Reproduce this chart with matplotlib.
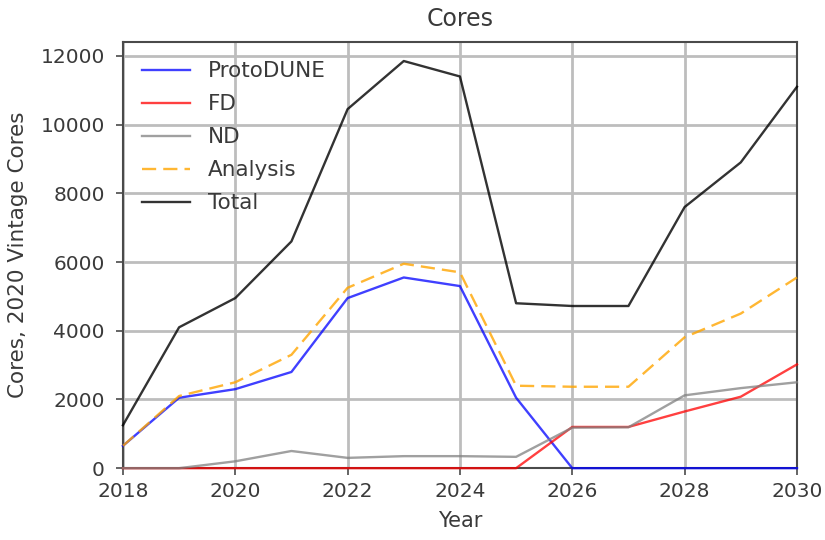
import matplotlib
matplotlib.use("Agg")
import matplotlib.pyplot as plt

years = [2018, 2019, 2020, 2021, 2022, 2023, 2024, 2025, 2026, 2027, 2028, 2029, 2030]
protodune = [650, 2050, 2300, 2800, 4950, 5550, 5300, 2050, 0, 0, 0, 0, 0]
fd = [0, 0, 0, 0, 0, 0, 0, 0, 1200, 1200, 1650, 2080, 3020]
nd = [0, 0, 200, 500, 300, 350, 350, 330, 1180, 1190, 2120, 2330, 2500]
analysis = [650, 2100, 2500, 3300, 5250, 5950, 5700, 2400, 2370, 2370, 3810, 4500, 5550]
total = [1250, 4100, 4950, 6600, 10450, 11850, 11400, 4800, 4720, 4720, 7600, 8900, 11100]

plt.rcParams['font.family'] = ['DejaVu Sans']
fig = plt.figure(figsize=(8.25, 5.4), dpi=100)
ax = fig.add_axes([0.149, 0.133, 0.817, 0.789])

text_color = '#3a3a3a'
lw = 1.7
kw = dict(lw=lw, zorder=3, clip_on=False)
ax.plot(years, protodune, color='blue', alpha=0.75, label='ProtoDUNE', **kw)
ax.plot(years, fd, color='red', alpha=0.75, label='FD', **kw)
ax.plot(years, nd, color='gray', alpha=0.75, label='ND', **kw)
ax.plot(years, analysis, color='orange', alpha=0.8, ls=(0, (6, 3)), label='Analysis', **kw)
ax.plot(years, total, color='black', alpha=0.8, label='Total', **kw)

ax.set_xlim(2018, 2030)
ax.set_ylim(0, 12400)
ax.set_xticks([2018, 2020, 2022, 2024, 2026, 2028, 2030])
ax.set_yticks([0, 2000, 4000, 6000, 8000, 10000, 12000])
ax.grid(True, color='#bdbdbd', lw=2)
ax.set_axisbelow(True)
for s in ax.spines.values():
    s.set_color('#4a4a4a')
    s.set_linewidth(1.5)
ax.tick_params(labelsize=14.5, colors='#4a4a4a', labelcolor=text_color, length=5, width=1.2)
ax.tick_params(axis='y', pad=8)
ax.tick_params(axis='x', pad=5)

ax.set_title('Cores', fontsize=17, color=text_color, pad=11.5)
ax.set_xlabel('Year', fontsize=15, color=text_color, labelpad=7)
ax.set_ylabel('Cores, 2020 Vintage Cores', fontsize=15.5, color=text_color, labelpad=9)

leg = ax.legend(loc='upper left', frameon=False, fontsize=15.5, handlelength=2.2,
                handletextpad=0.85, labelspacing=0.6, borderaxespad=0.5)
for t in leg.get_texts():
    t.set_color(text_color)

fig.savefig('out.png', dpi=100)
